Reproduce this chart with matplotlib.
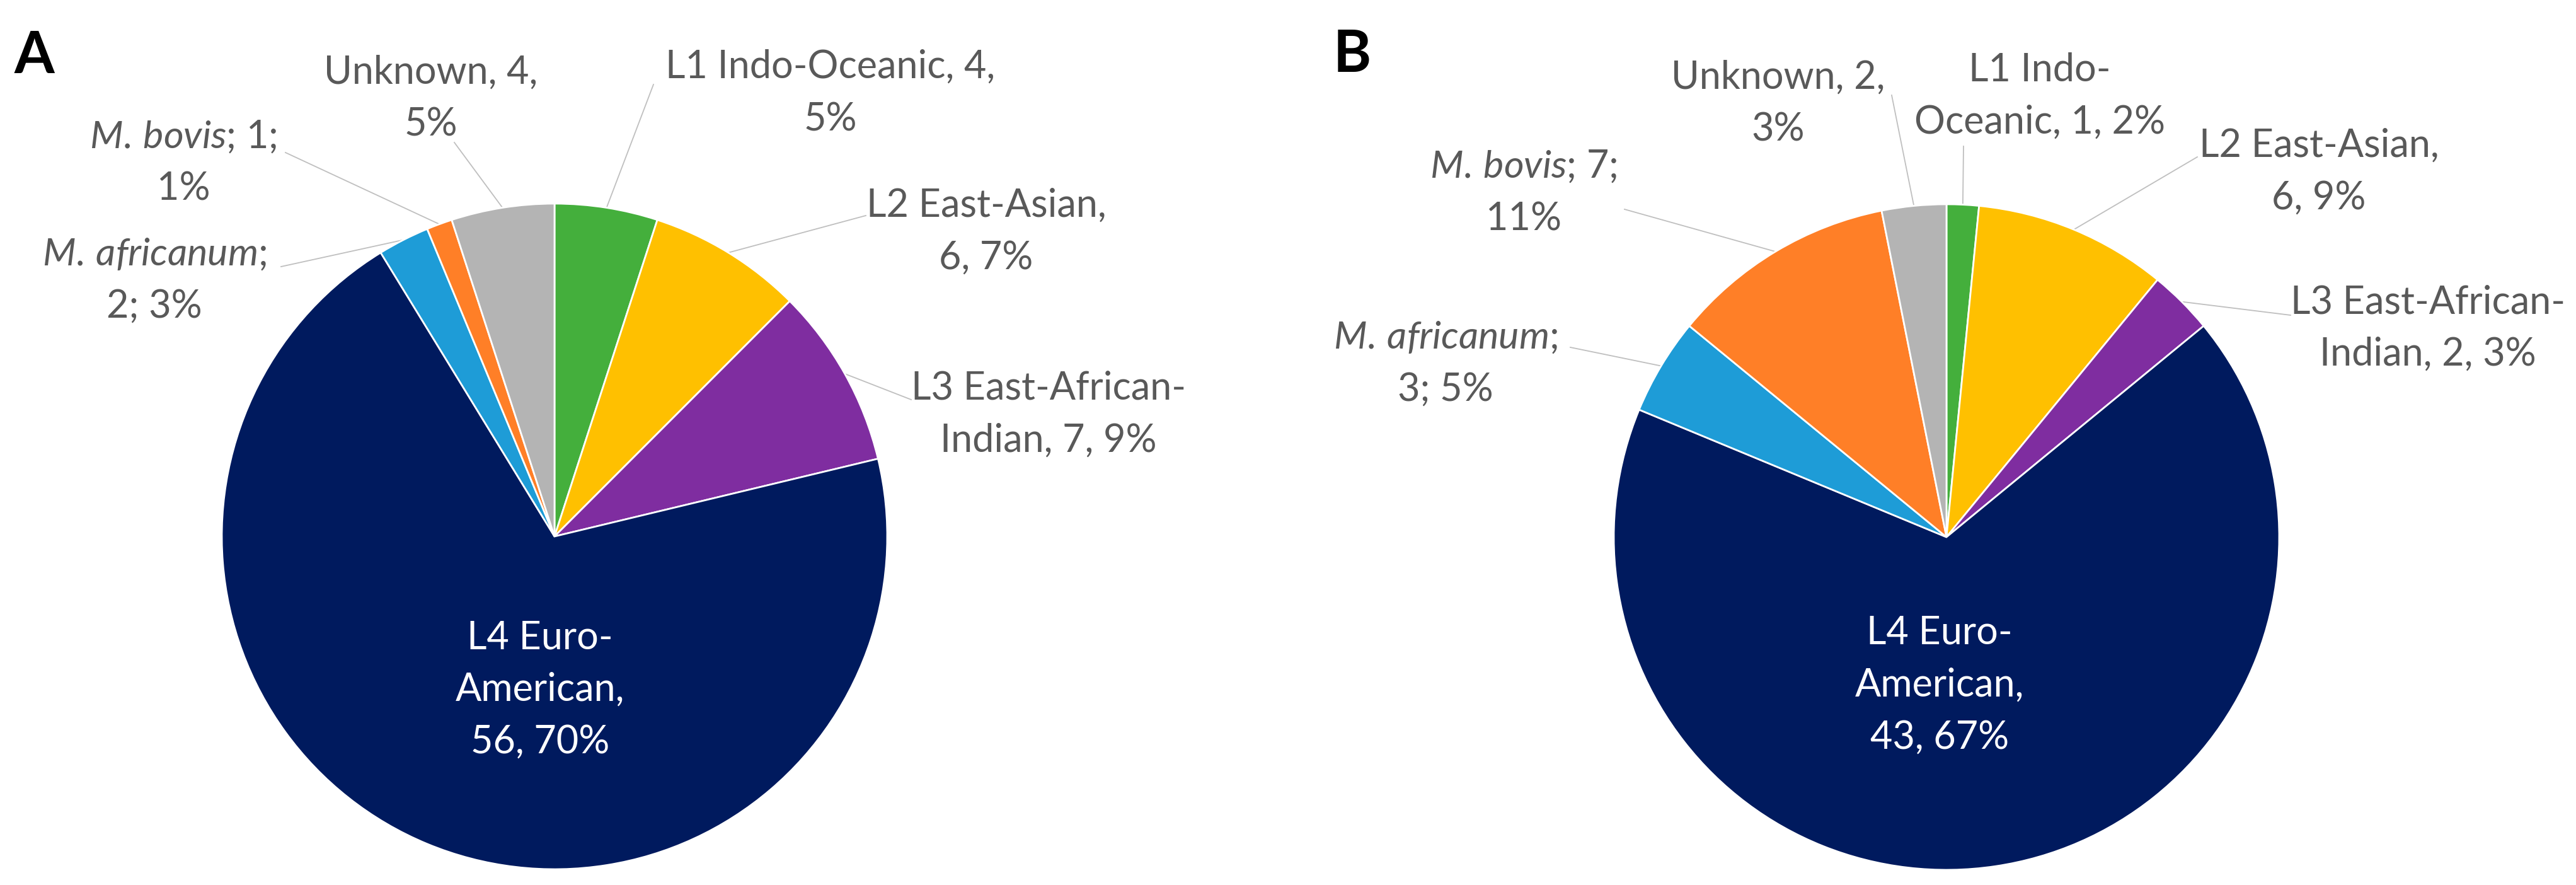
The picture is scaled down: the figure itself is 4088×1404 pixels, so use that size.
import matplotlib.pyplot as plt
import numpy as np

plt.rcParams['font.family'] = ['Lato', 'DejaVu Sans']
plt.rcParams['mathtext.fontset'] = 'custom'
plt.rcParams['mathtext.rm'] = 'Lato'
plt.rcParams['mathtext.it'] = 'Lato:italic'

colors = ['#44AF3C', '#FFC000', '#7F2DA0', '#001A5E', '#1E9CD7', '#FF7F27', '#B4B4B4']

counts_a = [4, 6, 7, 56, 2, 1, 4]
counts_b = [1, 6, 2, 43, 3, 7, 2]

labels_a = ['L1 Indo-Oceanic, 4,\n5%', 'L2 East-Asian,\n6, 7%',
            'L3 East-African-\nIndian, 7, 9%', 'L4 Euro-\nAmerican,\n56, 70%',
            r'$\mathit{M.\,africanum}$;' + '\n2; 3%', r'$\mathit{M.\,bovis}$; 1;' + '\n1%',
            'Unknown, 4,\n5%']
labels_b = ['L1 Indo-\nOceanic, 1, 2%', 'L2 East-Asian,\n6, 9%',
            'L3 East-African-\nIndian, 2, 3%', 'L4 Euro-\nAmerican,\n43, 67%',
            r'$\mathit{M.\,africanum}$;' + '\n3; 5%', r'$\mathit{M.\,bovis}$; 7;' + '\n11%',
            'Unknown, 2,\n3%']

# layout in pixels, measured from the top-left corner
W, H = 4088, 1404
R = 528
STEP = 83
panels = [
    dict(counts=counts_a, labels=labels_a, center=(880, 851), letter='A', letter_xy=(22, 116),
         text_xy=[(1318, 124), (1565, 344), (1664, 634), (857, 1029), (245, 421), (291, 235), (684, 133)],
         leader_xy=[(1037, 134), (1374, 342), (1446, 634), None, (446, 423), (453, 242), (721, 226)]),
    dict(counts=counts_b, labels=labels_b, center=(3089, 852), letter='B', letter_xy=(2116, 114),
         text_xy=[(3237, 129), (3680, 249), (3853, 497), (3078, 1022), (2294, 553), (2418, 282), (2822, 141)],
         leader_xy=[(3116, 232), (3487, 249), (3635, 500), None, (2492, 551), (2578, 332), (3002, 151)]),
]

fig = plt.figure(figsize=(W / 100, H / 100), dpi=100)
ax = fig.add_axes([0, 0, 1, 1])

for p in panels:
    cx, cy = p['center']
    wedges, _ = ax.pie(p['counts'], colors=colors, startangle=90, counterclock=False,
                       radius=R, center=(cx, H - cy),
                       wedgeprops=dict(edgecolor='white', linewidth=2))
    for w, lab, (tx, ty), lead in zip(wedges, p['labels'], p['text_xy'], p['leader_xy']):
        inside = lead is None
        for i, line in enumerate(lab.split('\n')):
            ax.text(tx, H - (ty + i * STEP), line, ha='center', va='baseline',
                    fontsize=44, color='white' if inside else '#595959')
        if not inside:
            mid = np.deg2rad((w.theta1 + w.theta2) / 2)
            ex, ey = cx + R * np.cos(mid), (H - cy) + R * np.sin(mid)
            ax.plot([lead[0], ex], [H - lead[1], ey], color='#BFBFBF', lw=1.3, zorder=0.5)
    lx, ly = p['letter_xy']
    ax.text(lx, H - ly, p['letter'], ha='left', va='baseline', fontsize=66,
            fontweight='bold', color='black')

ax.set_xlim(0, W)
ax.set_ylim(0, H)
ax.set_aspect('equal')
ax.axis('off')

fig.savefig('out.png', dpi=100)
